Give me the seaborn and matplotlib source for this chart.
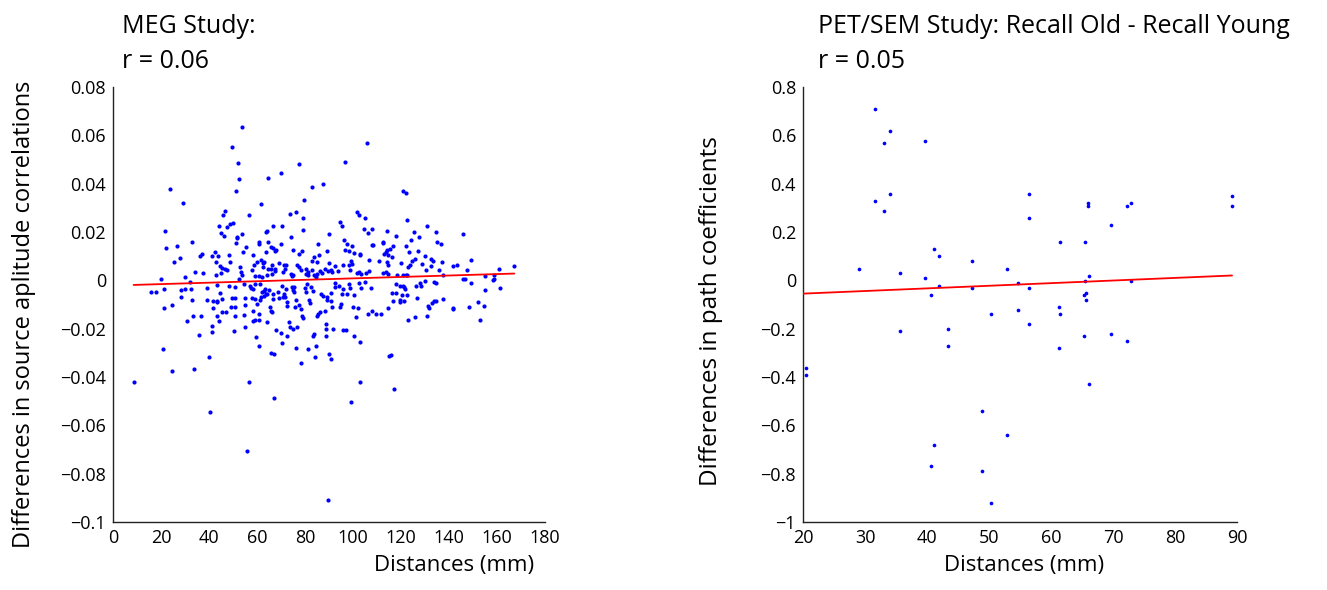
import matplotlib
matplotlib.use("Agg")
import matplotlib.pyplot as plt
import seaborn as sns
import pandas as pd

# ---------------- MEG study data (distance mm, difference in correlations) ----------------
meg_distance = [
    8.6, 15.8, 17.8, 20.1, 21.4, 21.1, 20.8, 21.7, 22.1, 23.9,
    24.4, 24.4, 25.4, 26.7, 27.8, 28.2, 28.3, 29.2, 29.9, 30.0,
    30.8, 32.1, 32.4, 32.8, 32.9, 33.5, 33.9, 34.3, 35.7, 36.3,
    36.7, 37.2, 37.6, 39.3, 39.3, 40.1, 40.6, 41.1, 41.3, 41.3,
    41.5, 41.8, 42.6, 42.9, 42.9, 43.2, 43.2, 43.2, 43.5, 43.8,
    44.2, 44.3, 44.4, 44.6, 45.0, 45.0, 45.4, 45.6, 45.6, 46.0,
    46.3, 46.5, 46.8, 47.1, 47.5, 47.6, 48.2, 48.5, 48.6, 48.8,
    49.0, 49.4, 49.6, 50.0, 50.3, 50.7, 50.8, 50.8, 51.0, 51.3,
    51.4, 51.5, 51.8, 52.2, 52.4, 52.6, 52.9, 53.5, 53.9, 53.9,
    53.9, 54.3, 54.6, 54.7, 54.9, 55.0, 55.1, 55.4, 55.7, 56.5,
    56.7,
    105.7, 77.4, 96.8, 64.6, 69.9, 83.1, 87.6, 79.5, 61.5, 73.6,
    76.2, 79.0, 79.2, 66.5, 70.4, 64.0, 63.6, 74.2, 94.6, 95.3,
    101.6, 102.5, 105.0, 104.6, 106.1, 107.9, 114.2, 90.1, 60.7, 61.0,
    64.7, 65.7, 66.6, 67.9, 67.3, 69.9, 58.2, 63.7, 75.1, 77.5,
    78.6, 85.3, 83.7, 85.8, 89.0, 96.4, 97.6, 99.4, 96.8, 98.2,
    102.8, 103.1, 100.3, 107.8, 108.5, 106.7, 112.6, 112.7, 113.0, 113.6,
    114.0, 114.7, 114.2, 114.4, 60.1, 61.5, 62.4, 62.9, 58.8, 62.6,
    66.4, 65.7, 66.1, 69.3, 71.1, 72.1, 71.7, 71.0, 58.1, 59.2,
    61.0, 62.2, 64.0, 64.7, 67.6, 67.4, 74.0, 75.0, 74.7, 76.5,
    77.3, 78.2, 80.3, 80.4, 81.4, 81.1, 83.0, 84.9, 84.5, 83.1,
    83.8, 85.1, 86.3, 87.0, 88.2, 90.0, 89.4, 90.8, 91.3, 92.5,
    93.8, 96.0, 98.2, 99.2, 99.6, 98.9, 101.7, 102.6, 103.2, 105.4,
    106.7, 110.9, 113.6, 114.4, 112.5, 92.6, 57.1, 59.3, 61.1, 57.4,
    58.5, 57.8, 59.0, 61.3, 62.1, 62.9, 63.5, 63.6, 61.8, 62.9,
    64.0, 60.7, 61.0, 59.9, 58.5, 58.2, 59.0, 59.6, 60.8, 64.3,
    65.3, 65.8, 66.1, 65.0, 66.8, 66.8, 68.8, 69.2, 70.4, 71.1,
    72.1, 71.8, 72.4, 72.6, 70.9, 67.9, 70.1, 70.4, 72.4, 65.8,
    67.2, 67.2, 73.5, 73.8, 75.1, 76.5, 74.6, 74.9, 75.3, 75.6,
    76.4, 77.3, 78.2, 75.7, 76.4, 78.3, 78.8, 79.3, 79.8, 80.4,
    80.8, 82.5, 83.2, 81.7, 82.2, 81.3, 83.2, 83.6, 84.6, 84.2,
    84.9, 85.6, 86.1, 86.7, 87.4, 89.0, 89.2, 88.3, 88.8, 88.8,
    88.8, 91.5, 89.9, 90.7, 89.7, 90.7, 91.3, 91.0, 92.6, 94.3,
    95.7, 95.3, 94.6, 94.9, 96.0, 97.1, 97.5, 98.2, 98.8, 99.8,
    100.5, 100.4, 99.0, 101.2, 102.2, 102.6, 102.9, 102.9, 103.2, 104.9,
    106.3, 107.9, 109.6, 111.6, 107.4, 114.7, 115.2,
    121.0, 122.1, 122.6, 130.7, 134.6, 125.3, 127.6, 117.8, 145.9, 124.0,
    134.8, 136.8, 121.9, 116.6, 123.2, 127.2, 130.0, 126.0, 124.7, 123.9,
    123.1, 119.9, 128.6, 132.4, 133.5, 137.2, 149.3, 141.7, 143.2, 132.4,
    130.4, 135.7, 137.6, 147.6, 161.0, 167.2, 121.0, 122.0, 122.6, 118.2,
    115.6, 116.1, 145.9, 146.6, 149.0, 155.0, 158.9, 158.2, 158.9, 161.2,
    155.1, 117.9, 119.6, 121.0, 121.8, 121.3, 126.3, 127.9, 128.5, 130.1,
    133.8, 134.5, 116.3, 117.9, 120.4, 122.6, 116.8, 119.6, 119.6, 121.4,
    126.5, 122.9, 125.7, 130.7, 131.4, 131.8, 133.0, 133.9, 134.4, 137.6,
    141.5, 141.7, 148.3, 152.0, 154.7, 152.9, 116.0, 117.2,
]
meg_difference = [
    -.0422, -.0047, -.0047, .0004, -.0036, -.0115, -.0283, .0203, .0133, .0377,
    -.0104, -.0377, .0077, .0142, .0091, -.0039, -.0070, .0320, .0014, -.0037,
    -.0170, -.0008, -.0037, .0159, -.0083, -.0146, -.0367, .0035, -.0226, .0101,
    -.0146, .0109, .0030, -.0033, -.0083, -.0319, -.0544, .0102, -.0189, -.0214,
    -.0087, -.0115, .0116, .0075, .0023, -.0021, -.0086, -.0090, -.0149, .0102,
    -.0168, .0224, .0061, -.0052, .0032, .0197, -.0077, .0052, -.0131, .0271,
    .0182, .0288, .0048, -.0131, .0044, .0221, -.0023, .0105, .0235, .0076,
    -.0112, -.0072, .0551, .0237, -.0208, -.0110, -.0026, -.0146, -.0072, .0370,
    .0153, .0174, .0179, .0486, .0418, .0007, .0055, .0036, .0636, .0190,
    .0021, .0119, -.0015, -.0145, -.0193, -.0101, -.0073, .0138, -.0707, -.0422,
    .0269,
    .0569, .0480, .0490, .0424, .0443, .0388, .0400, .0333, .0315, .0273,
    .0284, .0259, .0210, .0225, .0225, .0206, .0200, .0179, .0242, .0225,
    .0282, .0271, .0258, .0214, .0195, .0211, .0206, .0190, .0159, .0152,
    .0159, .0138, .0134, .0126, .0120, .0152, .0106, .0117, .0127, .0108,
    .0120, .0152, .0098, .0104, .0121, .0166, .0152, .0144, .0124, .0121,
    .0110, .0105, .0115, .0148, .0145, .0083, .0160, .0153, .0110, .0117,
    .0124, .0104, .0077, .0062, .0076, .0083, .0072, .0075, .0065, .0055,
    .0063, .0048, .0028, .0070, .0065, .0065, .0048, .0033, .0041, .0017,
    .0017, .0012, .0021, .0046, .0047, .0037, .0028, .0023, .0017, .0065,
    .0057, .0044, .0046, .0026, .0023, .0035, .0079, .0076, .0014, .0041,
    .0023, .0025, .0037, .0030, .0047, .0073, .0040, .0043, .0035, .0061,
    .0039, .0065, .0063, .0079, .0066, .0044, .0029, .0035, .0028, .0032,
    .0039, .0081, .0035, .0026, .0030, -.0010, -.0023, -.0014, -.0015, -.0032,
    -.0037, -.0073, -.0076, -.0083, -.0048, -.0046, -.0036, -.0055, -.0070, -.0065,
    -.0055, -.0138, -.0164, -.0098, -.0127, -.0170, -.0166, -.0235, -.0272, -.0174,
    -.0110, -.0127, -.0133, -.0041, -.0055, -.0076, -.0047, -.0075, -.0023, -.0055,
    -.0035, -.0069, -.0088, -.0108, -.0070, -.0204, -.0217, -.0259, -.0232, -.0301,
    -.0306, -.0487, -.0173, -.0193, -.0203, -.0193, -.0028, -.0039, -.0048, -.0028,
    -.0083, -.0104, -.0119, -.0110, -.0279, -.0341, -.0146, -.0155, -.0030, -.0050,
    -.0017, -.0028, -.0044, -.0083, -.0094, -.0284, -.0232, -.0221, -.0272, -.0317,
    -.0146, -.0138, -.0130, -.0055, -.0063, -.0083, -.0069, -.0127, -.0179, -.0200,
    -.0232, -.0200, -.0306, -.0324, -.0911, -.0086, -.0110, -.0052, -.0028, -.0023,
    -.0035, -.0055, -.0110, -.0099, -.0207, -.0204, -.0055, -.0017, -.0030, -.0110,
    -.0062, -.0232, -.0504, -.0152, -.0115, -.0010, -.0254, -.0422, -.0030, -.0007,
    -.0138, -.0127, -.0138, -.0138, -.0030, -.0113, -.0312,
    .0369, .0362, .0248, .0224, .0199, .0199, .0178, .0184, .0190, .0166,
    .0160, .0150, .0142, .0142, .0117, .0121, .0101, .0087, .0081, .0065,
    .0055, .0072, .0066, .0090, .0081, .0077, .0084, .0059, .0065, .0058,
    .0041, .0044, .0022, .0041, .0048, .0059, .0023, .0023, .0021, .0021,
    .0128, .0097, .0007, .0007, -.0011, .0017, .0023, .0000, .0004, -.0032,
    -.0041, -.0017, -.0025, -.0023, -.0037, -.0028, -.0023, -.0011, -.0023, -.0001,
    -.0007, -.0012, -.0051, -.0051, -.0059, -.0059, -.0087, -.0083, -.0090, -.0087,
    -.0072, -.0166, -.0152, -.0149, -.0106, -.0113, -.0094, -.0086, -.0087, -.0077,
    -.0113, -.0119, -.0110, -.0088, -.0106, -.0166, -.0311, -.0450,
]
meg_fit_distance = [8.6, 167.2]
meg_fit_difference = [-0.0019, 0.0028]

# ---------------- PET/SEM study data ----------------
pet_distance = [
    31.6, 34.1, 33.1, 39.7, 31.6, 34.1, 33.1, 56.5, 56.5, 41.2,
    41.9, 29.1, 35.7, 47.2, 52.9, 39.7, 41.9, 40.6, 47.2, 54.7,
    56.5, 50.4, 54.7, 56.5, 35.7, 43.4, 43.4, 20.5, 20.5, 48.9,
    52.9, 41.2, 40.6, 48.9, 50.4,
    89.2, 89.2, 65.9, 65.9, 72.2, 72.9, 69.6, 61.4, 65.5, 66.2,
    65.5, 72.9, 65.6, 65.3, 65.6, 61.3, 61.4, 65.4, 69.6, 72.2,
    61.3, 66.2,
]
pet_difference = [
    0.708, 0.618, 0.568, 0.578, 0.328, 0.359, 0.288, 0.359, 0.258, 0.128,
    0.099, 0.048, 0.029, 0.079, 0.048, 0.008, -0.022, -0.061, -0.032, -0.011,
    -0.032, -0.141, -0.121, -0.181, -0.211, -0.201, -0.272, -0.361, -0.393, -0.541,
    -0.640, -0.680, -0.770, -0.790, -0.920,
    0.349, 0.308, 0.319, 0.308, 0.308, 0.319, 0.229, 0.159, 0.159, 0.018,
    -0.001, -0.001, -0.051, -0.061, -0.081, -0.110, -0.141, -0.230, -0.221, -0.251,
    -0.280, -0.430,
]
pet_fit_distance = [20.0, 89.2]
pet_fit_difference = [-0.055, 0.020]

# ---------------- text / ticks ----------------
meg_title = ["MEG Study:", "r = 0.06"]
pet_title = ["PET/SEM Study: Recall Old - Recall Young", "r = 0.05"]
meg_ylabel = "Differences in source aplitude correlations"
pet_ylabel = "Differences in path coefficients"
xlabel = "Distances (mm)"
meg_xticks = [0, 20, 40, 60, 80, 100, 120, 140, 160, 180]
meg_yticks = [0.08, 0.06, 0.04, 0.02, 0, -0.02, -0.04, -0.06, -0.08, -0.1]
meg_yticklabels = ["0.08", "0.06", "0.04", "0.02", "0", "\u22120.02", "\u22120.04",
                   "\u22120.06", "\u22120.08", "\u22120.1"]
pet_xticks = [20, 30, 40, 50, 60, 70, 80, 90]
pet_yticks = [0.8, 0.6, 0.4, 0.2, 0, -0.2, -0.4, -0.6, -0.8, -1]
pet_yticklabels = ["0.8", "0.6", "0.4", "0.2", "0", "\u22120.2", "\u22120.4",
                   "\u22120.6", "\u22120.8", "\u22121"]

sns.set_theme(style="white")
plt.rcParams['font.family'] = ['Open Sans', 'DejaVu Sans']

W, H = 1327, 590
fig = plt.figure(figsize=(W / 100, H / 100), dpi=100)
ax1 = fig.add_axes([113 / W, 1 - 522 / H, 432 / W, 435 / H])
ax2 = fig.add_axes([803 / W, 1 - 522 / H, 434 / W, 435 / H])

meg_df = pd.DataFrame({"distance": meg_distance, "difference": meg_difference})
pet_df = pd.DataFrame({"distance": pet_distance, "difference": pet_difference})

sns.scatterplot(data=meg_df, x="distance", y="difference", ax=ax1,
                color="#0000ff", s=9, linewidth=0, zorder=3)
sns.lineplot(x=meg_fit_distance, y=meg_fit_difference, ax=ax1,
             color="#ff0000", linewidth=1.3, zorder=4)
sns.scatterplot(data=pet_df, x="distance", y="difference", ax=ax2,
                color="#0000ff", s=7, linewidth=0, zorder=3)
sns.lineplot(x=pet_fit_distance, y=pet_fit_difference, ax=ax2,
             color="#ff0000", linewidth=1.3, zorder=4)

tick_fs = 13
for ax, xt, yt, ytl, xl, yl in [
    (ax1, meg_xticks, meg_yticks, meg_yticklabels, (0, 180), (-0.1, 0.08)),
    (ax2, pet_xticks, pet_yticks, pet_yticklabels, (20, 90), (-1, 0.8)),
]:
    ax.set_xlim(*xl)
    ax.set_ylim(*yl)
    ax.set_xticks(xt)
    ax.set_xticklabels([str(v) for v in xt])
    ax.set_yticks(yt)
    ax.set_yticklabels(ytl)
    sns.despine(ax=ax)
    for s in ("left", "bottom"):
        ax.spines[s].set_color("#222222")
        ax.spines[s].set_linewidth(1.0)
    ax.tick_params(direction="in", length=4, width=1.0, colors="#222222",
                   labelcolor="black", labelsize=tick_fs, pad=5)
    ax.set_xlabel(xlabel, fontsize=16, color="black")

ax1.set_ylabel(meg_ylabel, fontsize=17, color="black")
ax2.set_ylabel(pet_ylabel, fontsize=17.5, color="black")
ax1.yaxis.set_label_coords(-0.178, 0.478)
ax2.yaxis.set_label_coords(-0.185, 0.485)
ax1.xaxis.set_label_coords(0.79, -0.077)
ax2.xaxis.set_label_coords(0.51, -0.077)

for x0, lines in [(122, meg_title), (818, pet_title)]:
    fig.text(x0 / W, 1 - 33 / H, lines[0], fontsize=18, va="baseline", ha="left",
             color="black")
    fig.text(x0 / W, 1 - 68 / H, lines[1], fontsize=18, va="baseline", ha="left",
             color="black")

fig.savefig("out.png", dpi=100)
